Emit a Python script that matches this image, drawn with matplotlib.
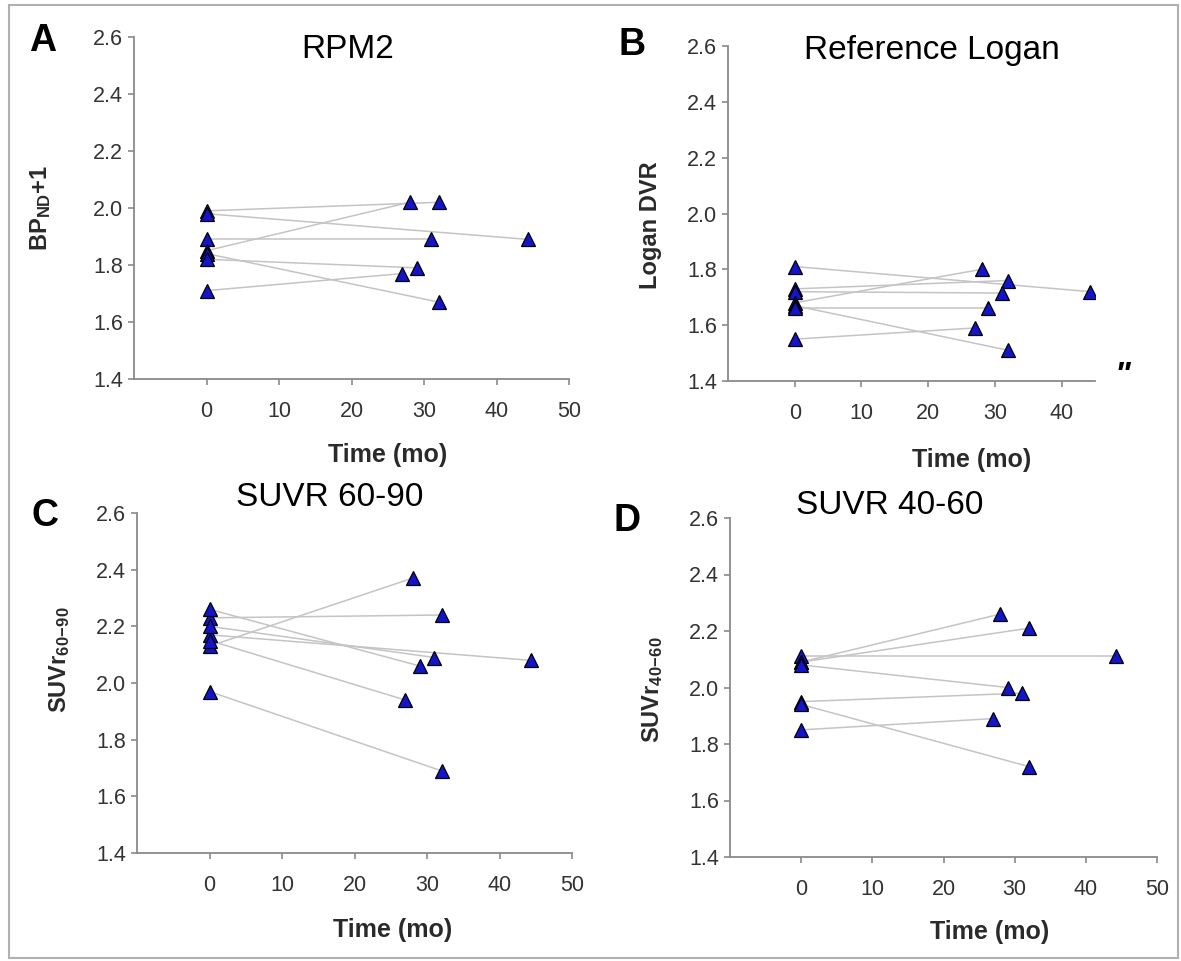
import matplotlib
matplotlib.use('Agg')
import matplotlib.pyplot as plt
from matplotlib.patches import Rectangle

plt.rcParams['font.family'] = ['Liberation Sans', 'DejaVu Sans']
plt.rcParams['mathtext.fontset'] = 'custom'
plt.rcParams['mathtext.rm'] = 'Liberation Sans'
plt.rcParams['mathtext.bf'] = 'Liberation Sans:bold'
plt.rcParams['mathtext.it'] = 'Liberation Sans:italic'

# follow-up time (months) of each of the 7 subjects; baseline is at 0
follow_time = [32, 44.3, 31, 28, 32, 29, 27]

rpm2_base = [1.99, 1.98, 1.89, 1.85, 1.84, 1.82, 1.71]
rpm2_follow = [2.02, 1.89, 1.89, 2.02, 1.67, 1.79, 1.77]

logan_base = [1.73, 1.81, 1.72, 1.68, 1.67, 1.66, 1.55]
logan_follow = [1.76, 1.72, 1.715, 1.80, 1.51, 1.66, 1.59]

suvr6090_base = [2.23, 2.17, 2.20, 2.13, 1.97, 2.26, 2.15]
suvr6090_follow = [2.24, 2.08, 2.09, 2.37, 1.69, 2.06, 1.94]

suvr4060_base = [2.09, 2.11, 1.95, 2.09, 1.94, 2.08, 1.85]
suvr4060_follow = [2.21, 2.11, 1.98, 2.26, 1.72, 2.00, 1.89]

y_ticks = [1.4, 1.6, 1.8, 2.0, 2.2, 2.4, 2.6]

W, H = 1181, 961
fig = plt.figure(figsize=(W / 100, H / 100), dpi=100)


def fx(x):
    return x / W


def fy(y):
    return 1 - y / H


def make_axes(l, t, r, b):
    return fig.add_axes([l / W, 1 - b / H, (r - l) / W, (b - t) / H])


def draw_panel(ax, base, follow, xmax, xticks):
    for b, f, t in zip(base, follow, follow_time):
        ax.plot([0, t], [b, f], color='#c4c4c4', lw=1.1, zorder=1)
    ax.plot(follow_time, follow, ls='none', marker='^', ms=10.5,
            mfc='#1414c8', mec='black', mew=0.9, zorder=3)
    ax.plot([0] * len(base), base, ls='none', marker='^', ms=10.5,
            mfc='#1414c8', mec='black', mew=0.9, zorder=3)
    ax.set_xlim(-10, xmax)
    ax.set_ylim(1.4, 2.6)
    ax.set_xticks(xticks)
    ax.set_yticks(y_ticks)
    ax.set_yticklabels(['%.1f' % v for v in y_ticks])
    for s in ['top', 'right']:
        ax.spines[s].set_visible(False)
    for s in ['left', 'bottom']:
        ax.spines[s].set_color('#8a8a8a')
        ax.spines[s].set_linewidth(1.3)
    ax.tick_params(direction='out', length=4, width=1.2, color='#8a8a8a',
                   labelsize=15.5, labelcolor='#333333')
    ax.tick_params(axis='x', pad=12)
    ax.tick_params(axis='y', pad=4)


axA = make_axes(134, 37, 569, 379)
draw_panel(axA, rpm2_base, rpm2_follow, 50, [0, 10, 20, 30, 40, 50])
axB = make_axes(728, 46, 1095, 381)
draw_panel(axB, logan_base, logan_follow, 45, [0, 10, 20, 30, 40])
axC = make_axes(137, 513, 572, 853)
draw_panel(axC, suvr6090_base, suvr6090_follow, 50, [0, 10, 20, 30, 40, 50])
axD = make_axes(730, 518, 1157, 857)
draw_panel(axD, suvr4060_base, suvr4060_follow, 50, [0, 10, 20, 30, 40, 50])

# panel letters
for letter, x, y in [('A', 43, 41), ('B', 632, 45), ('C', 45, 516), ('D', 627, 521)]:
    fig.text(fx(x), fy(y), letter, fontsize=27, fontweight='bold',
             ha='center', va='center')

# panel titles
for title, x, y in [('RPM2', 348, 49), ('Reference Logan', 932, 50),
                    ('SUVR 60-90', 330, 497), ('SUVR 40-60', 890, 506)]:
    fig.text(fx(x), fy(y), title, fontsize=24, ha='center', va='center')

# y labels
ylab = [(r'$\mathbf{BP}_{\mathbf{ND}}\mathbf{+1}$', 41, 208),
        ('Logan DVR', 650, 225),
        (r'$\mathbf{SUVr}_{\mathbf{60\!-\!90}}$', 60, 660),
        (r'$\mathbf{SUVr}_{\mathbf{40\!-\!60}}$', 653, 690)]
for txt, x, y in ylab:
    fig.text(fx(x), fy(y), txt, fontsize=17, fontweight='bold', color='#2a2a2a',
             rotation=90, ha='center', va='center')

# x labels
for x, y in [(388, 455), (972, 460), (393, 930), (990, 932)]:
    fig.text(fx(x), fy(y), 'Time (mo)', fontsize=18, fontweight='bold',
             color='#2a2a2a', ha='center', va='center')

fig.text(fx(1122), fy(376), '"', fontsize=24, style='italic', fontweight='bold',
         ha='center', va='center')

fig.patches.append(Rectangle((fx(9), fy(958)), fx(1178) - fx(9), fy(5) - fy(958),
                             transform=fig.transFigure, fill=False,
                             ec='#b0b0b0', lw=1.5))

fig.savefig('out.png', dpi=100)
